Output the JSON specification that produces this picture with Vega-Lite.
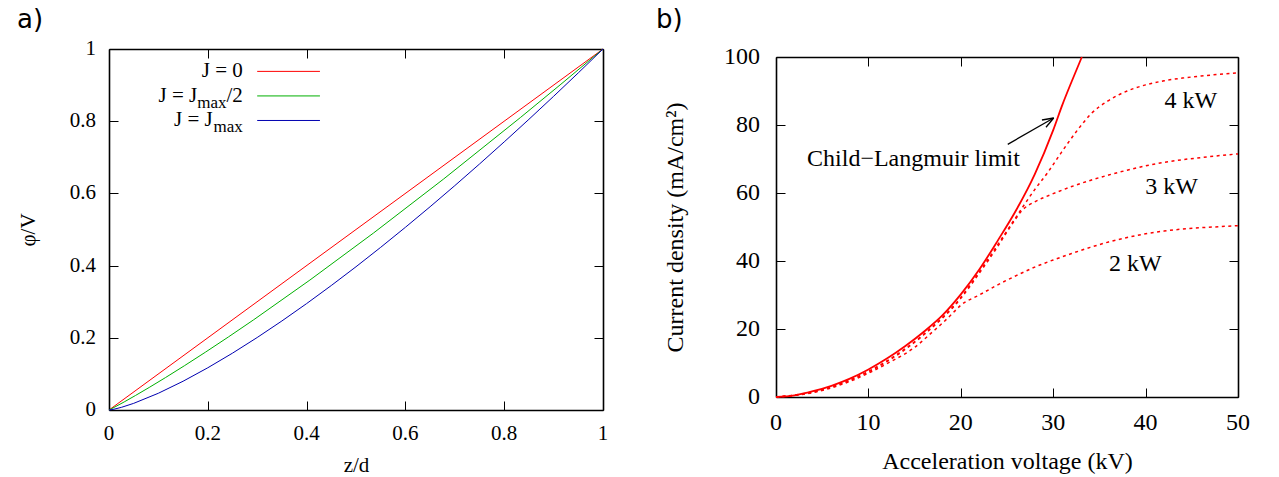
{
  "$schema": "https://vega.github.io/schema/vega-lite/v6.json",
  "padding": {"left": 17, "top": 6, "right": 0, "bottom": 0},
  "background": "white",
  "datasets": {
    "phi": [
      {"J": "J = 0", "z": 0, "phi": 0},
      {"J": "J = 0", "z": 0.5, "phi": 0.5},
      {"J": "J = 0", "z": 1, "phi": 1},
      {"J": "J = Jmax/2", "z": 0, "phi": 0},
      {"J": "J = Jmax/2", "z": 0.0037, "phi": 0.0025},
      {"J": "J = Jmax/2", "z": 0.0141, "phi": 0.01},
      {"J": "J = Jmax/2", "z": 0.0309, "phi": 0.0225},
      {"J": "J = Jmax/2", "z": 0.0534, "phi": 0.04},
      {"J": "J = Jmax/2", "z": 0.0814, "phi": 0.0625},
      {"J": "J = Jmax/2", "z": 0.1146, "phi": 0.09},
      {"J": "J = Jmax/2", "z": 0.1525, "phi": 0.1225},
      {"J": "J = Jmax/2", "z": 0.195, "phi": 0.16},
      {"J": "J = Jmax/2", "z": 0.2419, "phi": 0.2025},
      {"J": "J = Jmax/2", "z": 0.2929, "phi": 0.25},
      {"J": "J = Jmax/2", "z": 0.4067, "phi": 0.36},
      {"J": "J = Jmax/2", "z": 0.5352, "phi": 0.49},
      {"J": "J = Jmax/2", "z": 0.6775, "phi": 0.64},
      {"J": "J = Jmax/2", "z": 0.8327, "phi": 0.81},
      {"J": "J = Jmax/2", "z": 0.9149, "phi": 0.9025},
      {"J": "J = Jmax/2", "z": 1, "phi": 1},
      {"J": "J = Jmax", "z": 0, "phi": 0},
      {"J": "J = Jmax", "z": 0.01, "phi": 0.00215},
      {"J": "J = Jmax", "z": 0.025, "phi": 0.00731},
      {"J": "J = Jmax", "z": 0.05, "phi": 0.01842},
      {"J": "J = Jmax", "z": 0.1, "phi": 0.04642},
      {"J": "J = Jmax", "z": 0.15, "phi": 0.07969},
      {"J": "J = Jmax", "z": 0.2, "phi": 0.11696},
      {"J": "J = Jmax", "z": 0.25, "phi": 0.15749},
      {"J": "J = Jmax", "z": 0.3, "phi": 0.20083},
      {"J": "J = Jmax", "z": 0.35, "phi": 0.24665},
      {"J": "J = Jmax", "z": 0.4, "phi": 0.29472},
      {"J": "J = Jmax", "z": 0.45, "phi": 0.34484},
      {"J": "J = Jmax", "z": 0.5, "phi": 0.39685},
      {"J": "J = Jmax", "z": 0.55, "phi": 0.45062},
      {"J": "J = Jmax", "z": 0.6, "phi": 0.50606},
      {"J": "J = Jmax", "z": 0.65, "phi": 0.56306},
      {"J": "J = Jmax", "z": 0.7, "phi": 0.62153},
      {"J": "J = Jmax", "z": 0.75, "phi": 0.68142},
      {"J": "J = Jmax", "z": 0.8, "phi": 0.74265},
      {"J": "J = Jmax", "z": 0.85, "phi": 0.80517},
      {"J": "J = Jmax", "z": 0.9, "phi": 0.86894},
      {"J": "J = Jmax", "z": 0.95, "phi": 0.93389},
      {"J": "J = Jmax", "z": 1, "phi": 1}
    ],
    "ticksA": [{"v": 0}, {"v": 0.2}, {"v": 0.4}, {"v": 0.6}, {"v": 0.8}, {"v": 1}],
    "ticksBx": [{"v": 0}, {"v": 10}, {"v": 20}, {"v": 30}, {"v": 40}, {"v": 50}],
    "ticksBy": [{"v": 0}, {"v": 20}, {"v": 40}, {"v": 60}, {"v": 80}, {"v": 100}],
    "panelA": [{"label": "a)", "x": -0.1862, "y": 1.0582}],
    "panelB": [{"label": "b)", "x": -12.99, "y": 108.5}],
    "legendRules": [
      {"J": "J = 0", "x1": 0.3, "x2": 0.427, "ly": 0.938},
      {"J": "J = Jmax/2", "x1": 0.3, "x2": 0.427, "ly": 0.87},
      {"J": "J = Jmax", "x1": 0.3, "x2": 0.427, "ly": 0.802}
    ],
    "legendText": [
      {"label": "J = 0", "lx": 0.271, "ly": 0.938},
      {"label": "J = J", "lx": 0.1787, "ly": 0.87},
      {"label": "/2", "lx": 0.271, "ly": 0.87},
      {"label": "J = J", "lx": 0.2099, "ly": 0.802}
    ],
    "legendSub": [
      {"label": "max", "lx": 0.2379, "ly": 0.87},
      {"label": "max", "lx": 0.271, "ly": 0.802}
    ],
    "cl": [
      {"V": 0, "J": 0}, {"V": 2, "J": 0.5}, {"V": 4, "J": 1.7}, {"V": 6, "J": 3.3},
      {"V": 8, "J": 5.4}, {"V": 10, "J": 8.1}, {"V": 12, "J": 11.3}, {"V": 14, "J": 15.0},
      {"V": 16, "J": 19.2}, {"V": 18, "J": 24.0}, {"V": 20, "J": 30.2}, {"V": 22, "J": 37.5},
      {"V": 24, "J": 46.0}, {"V": 26, "J": 55.0}, {"V": 28, "J": 65.5}, {"V": 30, "J": 78.5},
      {"V": 31, "J": 86.0}, {"V": 32, "J": 92.8}, {"V": 33.1, "J": 100}
    ],
    "pw": [
      {"P": "2 kW", "V": 0, "J": 0}, {"P": "2 kW", "V": 4, "J": 1.3}, {"P": "2 kW", "V": 8, "J": 4.6},
      {"P": "2 kW", "V": 12, "J": 9.8}, {"P": "2 kW", "V": 15, "J": 14.6}, {"P": "2 kW", "V": 17, "J": 19.3},
      {"P": "2 kW", "V": 18, "J": 21.7}, {"P": "2 kW", "V": 19, "J": 24.3}, {"P": "2 kW", "V": 20, "J": 27.0},
      {"P": "2 kW", "V": 22, "J": 30.0}, {"P": "2 kW", "V": 24, "J": 33.0}, {"P": "2 kW", "V": 26, "J": 35.7},
      {"P": "2 kW", "V": 28, "J": 38.2}, {"P": "2 kW", "V": 30, "J": 40.3}, {"P": "2 kW", "V": 32, "J": 42.2},
      {"P": "2 kW", "V": 34, "J": 44.0}, {"P": "2 kW", "V": 36, "J": 45.6}, {"P": "2 kW", "V": 38, "J": 46.9},
      {"P": "2 kW", "V": 40, "J": 48.0}, {"P": "2 kW", "V": 42, "J": 48.8}, {"P": "2 kW", "V": 44, "J": 49.4},
      {"P": "2 kW", "V": 46, "J": 49.8}, {"P": "2 kW", "V": 48, "J": 50.1}, {"P": "2 kW", "V": 50, "J": 50.4},
      {"P": "3 kW", "V": 0, "J": 0}, {"P": "3 kW", "V": 4, "J": 1.4}, {"P": "3 kW", "V": 8, "J": 4.9},
      {"P": "3 kW", "V": 12, "J": 10.4}, {"P": "3 kW", "V": 16, "J": 18.3}, {"P": "3 kW", "V": 20, "J": 29.0},
      {"P": "3 kW", "V": 22, "J": 36.4}, {"P": "3 kW", "V": 24, "J": 44.3}, {"P": "3 kW", "V": 25, "J": 48.6},
      {"P": "3 kW", "V": 26, "J": 52.6}, {"P": "3 kW", "V": 26.5, "J": 54.5}, {"P": "3 kW", "V": 27, "J": 55.8},
      {"P": "3 kW", "V": 28, "J": 57.4}, {"P": "3 kW", "V": 30, "J": 59.8}, {"P": "3 kW", "V": 32, "J": 61.9},
      {"P": "3 kW", "V": 34, "J": 63.7}, {"P": "3 kW", "V": 36, "J": 65.3}, {"P": "3 kW", "V": 38, "J": 66.7},
      {"P": "3 kW", "V": 40, "J": 68.0}, {"P": "3 kW", "V": 42, "J": 69.0}, {"P": "3 kW", "V": 44, "J": 69.8},
      {"P": "3 kW", "V": 46, "J": 70.4}, {"P": "3 kW", "V": 48, "J": 71.0}, {"P": "3 kW", "V": 50, "J": 71.5},
      {"P": "4 kW", "V": 0, "J": 0}, {"P": "4 kW", "V": 4, "J": 1.5}, {"P": "4 kW", "V": 8, "J": 5.0},
      {"P": "4 kW", "V": 12, "J": 10.6}, {"P": "4 kW", "V": 16, "J": 18.5}, {"P": "4 kW", "V": 20, "J": 29.3},
      {"P": "4 kW", "V": 22, "J": 36.8}, {"P": "4 kW", "V": 24, "J": 44.8}, {"P": "4 kW", "V": 26, "J": 53.0},
      {"P": "4 kW", "V": 28, "J": 61.0}, {"P": "4 kW", "V": 29.4, "J": 66.0}, {"P": "4 kW", "V": 30.8, "J": 71.6},
      {"P": "4 kW", "V": 32.6, "J": 78.4}, {"P": "4 kW", "V": 34.1, "J": 83.3}, {"P": "4 kW", "V": 36, "J": 87.2},
      {"P": "4 kW", "V": 38, "J": 90.0}, {"P": "4 kW", "V": 40, "J": 91.8}, {"P": "4 kW", "V": 42, "J": 93.0},
      {"P": "4 kW", "V": 44, "J": 93.8}, {"P": "4 kW", "V": 46, "J": 94.4}, {"P": "4 kW", "V": 48, "J": 94.9},
      {"P": "4 kW", "V": 50, "J": 95.3}
    ],
    "annot": [
      {"label": "Child\u2212Langmuir limit", "V": 14.88, "J": 70.1},
      {"label": "4 kW", "V": 44.9, "J": 87.0},
      {"label": "3 kW", "V": 42.8, "J": 61.8},
      {"label": "2 kW", "V": 38.9, "J": 39.0}
    ],
    "arrow": [
      {"V": 25.08, "J": 74.32, "V2": 30.05, "J2": 82.06},
      {"V": 28.78, "J": 81.47, "V2": 30.05, "J2": 82.06},
      {"V": 29.22, "J": 79.35, "V2": 30.05, "J2": 82.06}
    ]
  },
  "concat": [
    {
      "width": 494,
      "height": 361,
      "layer": [
        {
          "data": {"name": "phi"},
          "mark": {"type": "line", "strokeWidth": 1},
          "encoding": {
            "x": {"field": "z", "type": "quantitative", "scale": {"domain": [0, 1], "nice": false},
                  "axis": {"orient": "bottom", "title": "z/d", "values": [0, 0.2, 0.4, 0.6, 0.8, 1], "labels": false, "titleFont": "Liberation Serif", "titleFontSize": 21, "titlePadding": 44}},
            "y": {"field": "phi", "type": "quantitative", "scale": {"domain": [0, 1], "nice": false},
                  "axis": {"orient": "left", "title": "\u03c6/V", "values": [0, 0.2, 0.4, 0.6, 0.8, 1], "labels": false, "titleFont": "Liberation Serif", "titleFontSize": 21, "titlePadding": 70}},
            "color": {"field": "J", "type": "nominal", "scale": {"domain": ["J = 0", "J = Jmax/2", "J = Jmax"], "range": ["#ff0000", "#00b000", "#0000b0"]}, "legend": null}
          }
        },
        {
          "data": {"name": "phi"},
          "mark": {"type": "line", "opacity": 0},
          "encoding": {
            "x": {"field": "z", "type": "quantitative", "axis": {"orient": "top", "labels": false, "title": null, "values": [0, 0.2, 0.4, 0.6, 0.8, 1]}},
            "y": {"field": "phi", "type": "quantitative", "axis": {"orient": "right", "labels": false, "title": null, "values": [0, 0.2, 0.4, 0.6, 0.8, 1]}},
            "detail": {"field": "J"}
          }
        },
        {
          "data": {"name": "ticksA"},
          "mark": {"type": "text", "align": "center", "baseline": "middle", "dy": 24, "font": "Liberation Serif", "fontSize": 21, "color": "black"},
          "encoding": {
            "x": {"field": "v", "type": "quantitative", "axis": null},
            "y": {"datum": 0, "type": "quantitative", "axis": null},
            "text": {"field": "v", "type": "quantitative", "format": "~g"}
          }
        },
        {
          "data": {"name": "ticksA"},
          "mark": {"type": "text", "align": "right", "baseline": "middle", "dx": -13, "font": "Liberation Serif", "fontSize": 21, "color": "black"},
          "encoding": {
            "x": {"datum": 0, "type": "quantitative", "axis": null},
            "y": {"field": "v", "type": "quantitative", "axis": null},
            "text": {"field": "v", "type": "quantitative", "format": "~g"}
          }
        },
        {
          "data": {"name": "panelA"},
          "mark": {"type": "text", "align": "left", "baseline": "alphabetic", "font": "DejaVu Sans", "fontSize": 26, "color": "black"},
          "encoding": {
            "x": {"field": "x", "type": "quantitative", "axis": null},
            "y": {"field": "y", "type": "quantitative", "axis": null},
            "text": {"field": "label"}
          }
        },
        {
          "data": {"name": "legendRules"},
          "mark": {"type": "rule", "strokeWidth": 1},
          "encoding": {
            "x": {"field": "x1", "type": "quantitative", "axis": null},
            "x2": {"field": "x2"},
            "y": {"field": "ly", "type": "quantitative", "axis": null},
            "color": {"field": "J", "type": "nominal", "legend": null}
          }
        },
        {
          "data": {"name": "legendText"},
          "mark": {"type": "text", "align": "right", "baseline": "middle", "font": "Liberation Serif", "fontSize": 21, "color": "black"},
          "encoding": {
            "x": {"field": "lx", "type": "quantitative", "axis": null},
            "y": {"field": "ly", "type": "quantitative", "axis": null},
            "text": {"field": "label"}
          }
        },
        {
          "data": {"name": "legendSub"},
          "mark": {"type": "text", "align": "right", "baseline": "middle", "font": "Liberation Serif", "fontSize": 17, "dy": 7, "color": "black"},
          "encoding": {
            "x": {"field": "lx", "type": "quantitative", "axis": null},
            "y": {"field": "ly", "type": "quantitative", "axis": null},
            "text": {"field": "label"}
          }
        }
      ],
      "resolve": {"axis": {"x": "independent", "y": "independent"}}
    },
    {
      "vconcat": [
        {
          "data": {"values": [{"a": 0}]},
          "mark": {"type": "point", "opacity": 0},
          "width": 462,
          "height": 1,
          "view": {"stroke": null}
        },
        {
          "width": 462,
          "height": 340,
          "layer": [
            {
              "data": {"name": "pw"},
              "mark": {"type": "line", "color": "#ff0000", "strokeWidth": 1.5, "strokeDash": [3, 3.5], "interpolate": "monotone"},
              "encoding": {
                "x": {"field": "V", "type": "quantitative", "scale": {"domain": [0, 50], "nice": false},
                      "axis": {"orient": "bottom", "title": "Acceleration voltage (kV)", "values": [0, 10, 20, 30, 40, 50], "labels": false, "titleFont": "Liberation Serif", "titleFontSize": 24, "titlePadding": 52}},
                "y": {"field": "J", "type": "quantitative", "scale": {"domain": [0, 100], "nice": false},
                      "axis": {"orient": "left", "title": "Current density (mA/cm\u00b2)", "values": [0, 20, 40, 60, 80, 100], "labels": false, "titleFont": "Liberation Serif", "titleFontSize": 24, "titlePadding": 88}},
                "detail": {"field": "P"}
              }
            },
            {
              "data": {"name": "cl"},
              "mark": {"type": "line", "color": "#ff0000", "strokeWidth": 1.8, "interpolate": "monotone"},
              "encoding": {
                "x": {"field": "V", "type": "quantitative", "axis": {"orient": "top", "labels": false, "title": null, "values": [0, 10, 20, 30, 40, 50]}},
                "y": {"field": "J", "type": "quantitative", "axis": {"orient": "right", "labels": false, "title": null, "values": [0, 20, 40, 60, 80, 100]}}
              }
            },
            {
              "data": {"name": "ticksBx"},
              "mark": {"type": "text", "align": "center", "baseline": "middle", "dy": 26, "font": "Liberation Serif", "fontSize": 24, "color": "black"},
              "encoding": {
                "x": {"field": "v", "type": "quantitative", "axis": null},
                "y": {"datum": 0, "type": "quantitative", "axis": null},
                "text": {"field": "v", "type": "quantitative", "format": "~g"}
              }
            },
            {
              "data": {"name": "ticksBy"},
              "mark": {"type": "text", "align": "right", "baseline": "middle", "dx": -16, "font": "Liberation Serif", "fontSize": 24, "color": "black"},
              "encoding": {
                "x": {"datum": 0, "type": "quantitative", "axis": null},
                "y": {"field": "v", "type": "quantitative", "axis": null},
                "text": {"field": "v", "type": "quantitative", "format": "~g"}
              }
            },
            {
              "data": {"name": "panelB"},
              "mark": {"type": "text", "align": "left", "baseline": "alphabetic", "font": "DejaVu Sans", "fontSize": 26, "color": "black"},
              "encoding": {
                "x": {"field": "x", "type": "quantitative", "axis": null},
                "y": {"field": "y", "type": "quantitative", "axis": null},
                "text": {"field": "label"}
              }
            },
            {
              "data": {"name": "arrow"},
              "mark": {"type": "rule", "color": "black", "strokeWidth": 1.3},
              "encoding": {
                "x": {"field": "V", "type": "quantitative", "axis": null},
                "y": {"field": "J", "type": "quantitative", "axis": null},
                "x2": {"field": "V2"},
                "y2": {"field": "J2"}
              }
            },
            {
              "data": {"name": "annot"},
              "mark": {"type": "text", "align": "center", "baseline": "middle", "font": "Liberation Serif", "fontSize": 24, "color": "black"},
              "encoding": {
                "x": {"field": "V", "type": "quantitative", "axis": null},
                "y": {"field": "J", "type": "quantitative", "axis": null},
                "text": {"field": "label"}
              }
            }
          ],
          "resolve": {"axis": {"x": "independent", "y": "independent"}}
        }
      ],
      "spacing": 7,
      "bounds": "flush"
    }
  ],
  "columns": 2,
  "align": "none",
  "spacing": 46,
  "config": {
    "view": {"stroke": null},
    "axis": {
      "grid": false,
      "minExtent": 0,
      "domainColor": "black",
      "domainWidth": 1.6,
      "tickColor": "black",
      "tickWidth": 1,
      "tickSize": -9,
      "titleFont": "Liberation Serif",
      "titleColor": "black",
      "titleFontWeight": "normal"
    }
  }
}
